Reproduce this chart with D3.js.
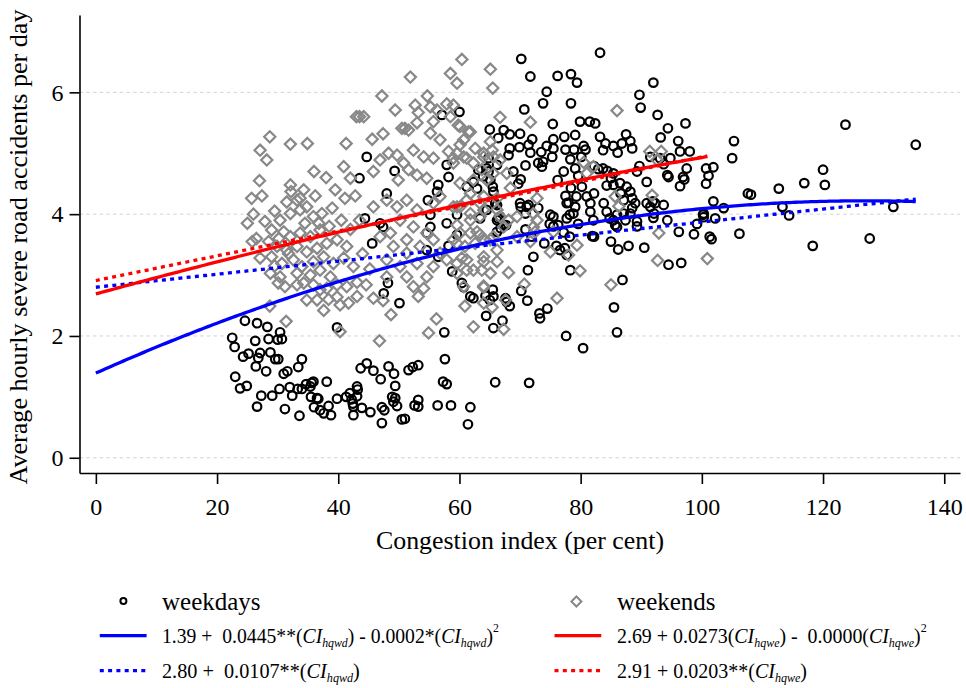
<!DOCTYPE html>
<html><head><meta charset="utf-8">
<script src="https://cdn.jsdelivr.net/npm/d3@7"></script>
<style>
body{margin:0;background:#fff}
svg{display:block}
text{font-family:"Liberation Serif","Times New Roman",serif;fill:#000}
</style>
</head><body>
<svg id="c" width="966" height="688"></svg>
<script>
// ---------------- DATA ----------------
const xTicks = [0,20,40,60,80,100,120,140];
const yTicks = [0,2,4,6];
const seriesLabels = ["weekdays","weekends"];
const xTitle = "Congestion index (per cent)";
const yTitle = "Average hourly severe road accidents per day";

// fitted model coefficients (intercept, linear, quadratic)
const weekdayQuadCoef = [1.39, 0.0445, -0.000175];
const weekdayLinCoef  = [2.80, 0.0107];
const weekendQuadCoef = [2.69, 0.0273, -0.000049];
const weekendLinCoef  = [2.91, 0.0203];

// legend equation texts: [text, style]  n=normal i=italic sub=subscript sup=superscript
const eqWeekdayQuad = [["1.39 +  0.0445**(","n"],["CI","i"],["hqwd","sub"],[") - 0.0002*(","n"],["CI","i"],["hqwd","sub"],[")","n"],["2","sup"]];
const eqWeekdayLin  = [["2.80 +  0.0107**(","n"],["CI","i"],["hqwd","sub"],[")","n"]];
const eqWeekendQuad = [["2.69 + 0.0273(","n"],["CI","i"],["hqwe","sub"],[") -  0.0000(","n"],["CI","i"],["hqwe","sub"],[")","n"],["2","sup"]];
const eqWeekendLin  = [["2.91 + 0.0203**(","n"],["CI","i"],["hqwe","sub"],[")","n"]];

// weekday observations [congestion index, accidents per hour]
const weekdays = [
[24.6,2.25],[26.6,2.21],[28.3,2.15],[22.5,1.97],[22.9,1.82],[26.3,1.92],[28.5,1.95],[30.4,2.06],[30.0,1.94],[30.7,1.95],[39.8,2.14],[50.1,2.54],[47.5,2.70],[48.2,2.87],[57.5,2.06],[24.3,1.66],[25.2,1.71],[27.1,1.72],[26.8,1.64],[28.8,1.73],[29.6,1.62],[30.1,1.62],[34.0,1.62],[26.4,1.50],[28.1,1.42],[31.0,1.38],[31.6,1.42],[33.4,1.49],[23.0,1.33],[23.8,1.14],[24.9,1.18],[27.3,1.02],[29.1,1.02],[30.3,1.13],[32.0,1.16],[32.4,1.02],[33.3,1.13],[34.0,1.13],[34.7,1.21],[35.4,1.17],[35.9,1.25],[35.6,1.23],[38.1,1.25],[35.5,1.00],[36.5,0.98],[36.7,0.97],[36.0,0.83],[37.0,0.78],[37.6,0.73],[38.4,0.85],[38.8,0.70],[39.8,0.97],[41.3,1.00],[41.9,1.06],[42.2,0.96],[42.4,0.89],[42.5,0.84],[43.1,1.17],[43.2,1.12],[43.1,1.01],[42.5,0.70],[43.9,0.82],[45.3,0.75],[43.7,1.47],[44.7,1.55],[45.8,1.43],[47.0,1.29],[48.3,1.50],[49.2,1.38],[49.4,1.18],[48.9,1.00],[49.4,0.98],[49.7,0.85],[49.1,0.92],[47.2,0.83],[47.6,0.78],[47.2,0.57],[50.5,0.63],[51.0,0.64],[51.6,1.44],[52.3,1.49],[53.2,1.52],[52.6,0.86],[53.2,0.84],[53.2,0.95],[56.4,0.86],[58.6,0.86],[61.8,0.83],[61.4,0.55],[57.6,1.62],[57.3,1.25],[57.9,1.21],[65.9,1.24],[26.6,0.84],[31.2,0.80],[33.6,0.69],[64.4,2.33],[65.6,2.13],[61.8,2.65],[62.3,2.62],[64.3,2.66],[65.6,2.65],[65.5,2.76],[60.7,2.80],
[77.6,2.00],[80.4,1.80],[86.0,2.06],[85.5,2.47],[86.9,2.92],[71.5,1.23],[73.2,2.37],[73.3,2.29],[74.5,2.45],[71.2,2.58],[70.2,2.74],[71.3,3.08],[72.2,3.30],[78.3,3.08],[67.1,2.25],[65.0,2.59],[67.8,2.56],[68.3,2.49],[67.6,2.62],[60.4,2.87],[58.8,3.06],[74.0,3.52],[76.0,3.48],[76.6,3.41],[77.4,3.44],[77.7,3.33],[78.2,3.63],[77.2,3.70],[81.9,3.64],[82.2,3.63],[85.0,3.55],[86.2,3.42],[87.9,3.48],[90.5,3.45],[94.5,3.17],[96.6,3.20],[96.2,3.71],[98.7,3.67],[101.3,3.63],[99.2,3.84],[100.2,3.99],[106.2,3.68],[103.6,4.10],[102.2,3.93],[94.3,3.90],[101.9,4.21],[70.9,3.75],[66.8,3.77],[66.4,3.93],[67.7,3.82],[70.1,4.12],[71.1,4.12],[73.0,4.10],[74.9,3.84],[75.5,3.96],[78.2,3.99],[78.8,4.01],[79.6,3.84],[79.1,4.12],[81.6,4.04],[81.6,4.18],[84.3,4.04],[85.4,3.90],[85.7,3.82],[86.0,3.99],[87.1,4.01],[88.5,4.10],[89.0,4.18],[89.3,3.88],[91.5,4.12],[92.3,4.18],[93.7,4.15],[66.2,4.15],[77.7,4.18],
[83.2,6.65],[70.2,6.55],[71.7,6.26],[76.2,6.27],[78.4,6.30],[79.4,6.16],[74.4,6.01],[73.8,5.82],[78.4,5.82],[70.7,5.72],[60.0,5.68],[89.7,5.96],[89.9,5.75],[92.0,6.16],[92.7,5.63],[75.4,5.48],[79.9,5.52],[81.5,5.52],[82.4,5.49],[65.0,5.39],[67.3,5.38],[66.4,5.25],[68.3,5.31],[70.0,5.32],[94.4,5.41],[97.3,5.49],[93.2,5.26],[96.1,5.20],[96.4,5.03],[98.0,5.03],[105.3,5.20],[105.0,4.92],[72.0,5.23],[71.4,5.14],[71.7,5.01],[73.5,5.02],[74.4,5.12],[75.5,5.23],[75.5,5.08],[75.3,4.94],[73.8,4.86],[73.6,4.78],[73.0,4.84],[70.9,4.80],[69.9,5.10],[68.3,5.08],[68.1,4.97],[77.3,5.27],[79.1,5.30],[77.5,5.06],[78.9,5.06],[80.5,5.12],[80.8,5.06],[80.1,4.94],[78.3,4.90],[79.1,4.75],[77.2,4.70],[76.2,4.56],[79.6,4.63],[78.4,4.43],[77.5,4.30],[78.0,4.19],[79.3,4.29],[80.2,4.45],[81.0,4.29],[83.2,5.27],[84.1,5.16],[85.4,5.12],[86.8,5.16],[87.5,5.31],[88.2,5.20],[88.5,5.08],[86.1,5.01],[83.7,5.05],[82.2,4.79],[82.9,4.74],[83.7,4.75],[84.4,4.71],[85.4,4.67],[85.0,4.59],[84.3,4.47],[85.4,4.48],[86.5,4.51],[87.6,4.45],[86.6,4.34],[88.2,4.37],[87.1,4.23],[88.5,4.26],[88.2,4.01],[89.7,4.79],[89.3,4.70],[90.9,4.53],[91.5,4.94],[93.1,4.92],[94.8,4.92],[94.3,4.64],[97.5,4.75],[96.4,4.46],[96.9,4.61],[100.7,4.75],[101.9,4.77],[101.1,4.63],[100.7,4.50],[100.3,4.01],[91.9,4.21],[90.9,4.18],[92.1,4.01],[107.6,4.34],[82.2,4.34],[82.1,3.90],[83.8,4.18],[84.8,3.93],[86.0,3.79],[87.4,3.90],[89.3,3.80],[75.0,3.99],[76.3,3.82],[75.5,3.80],[77.7,3.93],[71.9,3.63],[70.0,4.18],[70.9,4.01],[71.4,4.15],[65.9,4.18],[66.7,3.96],[67.3,3.82],[66.2,3.71],[69.7,4.50],[70.1,4.57],[68.9,4.70],[65.1,4.56],[65.5,4.45],[63.9,4.62],[64.5,4.75],[64.8,4.92],
[57.1,5.63],[44.7,4.94],[49.3,4.71],[43.5,4.59],[48.0,4.34],[58.2,4.61],[57.9,4.81],[56.5,4.48],[56.3,4.37],[61.2,4.45],[62.3,4.53],[62.9,4.42],[65.6,4.37],[64.8,4.70],[63.1,4.73],[66.2,4.81],[44.4,3.93],[46.9,3.85],[45.6,3.52],[47.4,3.79],[54.8,4.23],[55.2,3.99],[55.2,3.79],[57.9,3.85],[59.6,3.99],[59.6,3.66],[63.4,3.93],[64.5,4.07],[66.2,3.90],[54.6,3.41],[58.2,3.48],[56.5,3.30],[54.6,3.69],
[93.7,4.82],[123.7,5.47],[135.3,5.14],[120.0,4.73],[116.9,4.51],[120.3,4.48],[112.7,4.42],[108.1,4.32],[97.1,4.57],[94.5,4.61],[100.3,3.95],[101.6,3.59],[92.0,3.94],[113.3,4.12],[114.4,3.98],[118.3,3.48],[127.7,3.60],[131.6,4.12]
];

// weekend observations [congestion index, accidents per hour]
const weekends = [
[28.7,5.27],[27.1,5.05],[28.2,4.89],[32.1,5.15],[34.9,5.16],[41.3,5.16],[43.0,5.60],[43.5,5.60],[44.2,5.60],[45.6,5.23],[47.4,5.32],[50.5,5.41],[51.0,5.41],[51.6,5.38],[52.7,5.79],[55.2,5.76],[57.9,5.81],[53.2,5.67],[53.0,5.50],[55.7,5.52],[55.2,5.33],[56.8,5.22],[59.8,5.46],[61.5,5.35],[60.1,5.14],[62.6,5.08],[64.0,5.00],[65.1,5.19],[25.7,4.26],[27.4,4.30],[32.1,4.48],[32.2,4.37],[34.3,4.40],[36.2,4.30],[33.7,4.26],[39.5,4.40],[41.1,4.26],[40.9,4.78],[42.0,4.59],[45.8,4.70],[46.9,4.89],[48.3,5.00],[49.7,4.97],[50.8,4.84],[51.6,4.73],[49.9,4.56],[52.4,5.05],[54.1,4.94],[55.7,4.92],[58.2,5.03],[59.0,4.92],[60.7,4.94],[62.3,4.84],[65.6,4.94],[53.0,4.64],[54.6,4.59],[27.9,3.88],[29.0,3.74],[30.4,3.90],[31.0,3.71],[32.1,4.01],[33.2,4.23],[33.7,4.07],[34.8,4.12],[35.9,3.96],[37.3,4.01],[37.0,3.74],[32.1,3.63],[33.7,3.69],[35.4,3.63],[29.9,3.47],[31.5,3.41],[33.2,3.47],[34.8,3.38],[36.5,3.44],[38.1,3.52],[39.8,3.58],[41.4,3.47],[27.1,3.28],[29.0,3.30],[30.7,3.19],[32.6,3.25],[34.0,3.14],[35.9,3.22],[37.6,3.30],[39.2,3.19],[40.9,3.28],[42.5,3.14],[28.8,3.03],[30.4,2.97],[33.2,3.03],[35.4,3.00],[37.0,3.08],[38.7,2.97],[45.8,4.12],[48.0,4.23],[49.7,4.12],[51.3,4.23],[53.0,4.07],[55.7,4.18],[56.8,4.29],[59.0,4.12],[61.2,4.23],[63.4,4.18],[50.2,3.90],[52.4,3.79],[54.6,3.69],[51.3,3.58],[48.6,3.69],[46.9,3.63],[49.1,3.47],[51.3,3.36],[53.5,3.47],[55.7,3.58],[56.8,3.36],[59.6,3.52],[61.8,3.69],[64.0,3.58],[65.6,3.63],[48.0,3.25],[50.2,3.14],[53.0,3.19],[55.7,3.14],[57.9,3.25],[61.2,3.25],[64.0,3.30],[66.2,3.41],[48.0,2.97],[51.3,2.97],[54.6,2.97],[59.6,3.03],[62.3,3.08],[65.1,3.03],
[29.5,4.05],[31.5,4.20],[28.5,3.55],[30.2,3.60],[36.8,3.85],[38.5,3.80],[39.0,4.10],[40.5,3.90],[42.0,3.75],[43.5,3.90],[42.8,4.30],[44.0,3.35],[45.2,3.10],[38.0,4.60],[36.0,4.70],[34.5,3.85],[31.8,3.35],[29.5,3.15],[26.5,3.60],[26.0,4.00],[27.0,4.55],[25.0,3.85],[25.8,3.55],
[28.7,2.49],[31.4,2.24],[34.8,2.59],[36.5,2.59],[37.6,2.42],[38.4,2.60],[39.8,2.64],[40.3,2.51],[41.7,2.54],[43.1,2.65],[44.6,2.84],[45.8,2.62],[47.4,2.58],[33.2,2.84],[34.3,2.87],[35.9,2.84],[37.0,2.76],[38.1,2.78],[39.8,2.84],[41.4,2.81],[43.1,2.88],[40.3,2.07],[46.8,1.92],[48.7,2.35],[53.2,2.65],[52.4,2.81],[54.1,2.78],[56.2,2.28],[54.9,2.05],[60.7,2.81],[60.9,2.49],[64.0,2.80],[62.3,2.15],[30.1,2.87],[31.2,2.81],
[86.3,4.13],[92.9,3.69],[92.7,3.24],[100.9,3.27],[85.0,2.84],[79.9,3.07],[76.1,2.62],[79.4,3.49],[78.0,3.33],[75.0,3.38],[72.8,3.90],[68.1,3.04],[70.7,2.85],[66.2,3.22],[64.0,3.22],[63.7,3.08],[64.0,2.82],[61.2,3.08],[59.6,3.19],[60.4,3.28],[60.9,3.47],[63.4,3.66],[62.6,3.52],[65.1,3.58],[67.3,3.79],[68.1,3.90],[66.2,4.07],[63.4,3.96],[61.8,3.90],[59.6,3.82],[59.0,3.58],[60.1,4.12],[67.3,2.11],[65.4,2.47],[67.6,2.59],[64.0,2.54],[71.7,3.55],[75.5,3.71],[72.5,3.71],
[60.4,6.54],[65.1,6.38],[65.5,6.07],[59.6,6.15],[58.5,6.31],[86.0,5.70],[71.7,5.51],[66.7,5.59],[59.0,5.79],[60.1,5.44],[61.8,5.35],[58.5,5.60],[60.7,5.22],[59.6,5.00],[59.0,4.84],[61.2,4.92],[64.0,4.94],[66.7,4.89],[65.4,5.05],[63.7,4.73],[65.6,4.67],[67.8,4.67],[62.3,4.56],[64.5,4.56],[60.1,4.51],[61.8,4.34],[64.0,4.29],[66.2,4.26],[68.4,4.43],[59.6,4.12],[61.8,4.01],[64.0,4.07],[66.7,3.96],[69.5,3.96],[72.2,4.01],[72.8,4.26],[60.1,3.69],[62.9,3.71],[69.5,3.63],[72.2,3.79],[91.4,5.03],[93.3,5.03],[92.6,4.89],[91.8,4.31],[85.7,4.29],[80.5,4.85],[82.1,4.78],[81.0,4.67],
[51.9,6.25],[47.2,5.94],[54.7,5.94],[56.3,5.71],[49.4,5.71]
];

// ---------------- DRAWING ----------------
const FONT = '"Liberation Serif","Times New Roman",serif';
const svg = d3.select("#c");
const x = d3.scaleLinear().domain([-2.7, 142.6]).range([79.5, 960]);
const y = d3.scaleLinear().domain([-0.25, 7.27]).range([473, 15]);

// gridlines
svg.append("g").selectAll("line").data(yTicks).join("line")
  .attr("x1", x.range()[0]).attr("x2", x.range()[1])
  .attr("y1", d => y(d)).attr("y2", d => y(d))
  .attr("stroke", "#d3d3d3").attr("stroke-width", 1).attr("stroke-dasharray", "3.5,3.2");

// axes
const gx = svg.append("g").attr("transform", `translate(0,${y.range()[0]})`)
  .call(d3.axisBottom(x).tickValues(xTicks).tickSize(11).tickSizeOuter(0).tickPadding(14));
const gy = svg.append("g").attr("transform", `translate(${x.range()[0]},0)`)
  .call(d3.axisLeft(y).tickValues(yTicks).tickSize(10).tickSizeOuter(0).tickPadding(6));
[gx, gy].forEach(g => {
  g.attr("font-family", FONT).attr("font-size", 24);
  g.select(".domain").attr("stroke", "#000").attr("stroke-width", 1.6);
  g.selectAll(".tick line").attr("stroke", "#000").attr("stroke-width", 1.6);
  g.selectAll(".tick text").attr("fill", "#000");
});

// axis titles
svg.append("text").attr("x", 520).attr("y", 549).attr("text-anchor", "middle")
  .attr("font-size", 26).attr("textLength", 288).attr("lengthAdjust", "spacingAndGlyphs").text(xTitle);
svg.append("text").attr("transform", "rotate(-90)").attr("x", -247).attr("y", 27)
  .attr("text-anchor", "middle").attr("font-size", 26)
  .attr("textLength", 475).attr("lengthAdjust", "spacingAndGlyphs").text(yTitle);

// points
const diamond = s => `M0,${-s}L${s},0L0,${s}L${-s},0Z`;
svg.append("g").selectAll("circle").data(weekdays).join("circle")
  .attr("cx", d => x(d[0])).attr("cy", d => y(d[1])).attr("r", 4.3)
  .attr("fill", "none").attr("stroke", "#000").attr("stroke-width", 2.2);
svg.append("g").selectAll("path").data(weekends).join("path")
  .attr("transform", d => `translate(${x(d[0])},${y(d[1])})`).attr("d", diamond(5.6))
  .attr("fill", "none").attr("stroke", "#888888").attr("stroke-width", 2.2);

// fitted lines
const model = c => v => c[0] + c[1] * v + (c[2] || 0) * v * v;
const wdMax = d3.max(weekdays, d => d[0]);
const weMax = d3.max(weekends, d => d[0]);
const curve = (c, max) => d3.range(0, max, 0.5).concat([max]).map(v => [v, model(c)(v)]);
const line = d3.line().x(d => x(d[0])).y(d => y(d[1]));
const lineDefs = [
  {c: weekdayLinCoef, max: wdMax, color: "#0000ff", dot: true},
  {c: weekendLinCoef, max: weMax, color: "#ff0000", dot: true},
  {c: weekdayQuadCoef, max: wdMax, color: "#0000ff", dot: false},
  {c: weekendQuadCoef, max: weMax, color: "#ff0000", dot: false}
];
svg.append("g").selectAll("path").data(lineDefs).join("path")
  .attr("d", d => line(curve(d.c, d.max)))
  .attr("fill", "none").attr("stroke", d => d.color).attr("stroke-width", 3.3)
  .attr("stroke-dasharray", d => d.dot ? "4,4.3" : null);

// legend
const lg = svg.append("g");
lg.append("circle").attr("cx", 123.4).attr("cy", 601).attr("r", 3)
  .attr("fill", "none").attr("stroke", "#000").attr("stroke-width", 2);
lg.append("path").attr("transform", "translate(576.4,601.5)").attr("d", diamond(5))
  .attr("fill", "none").attr("stroke", "#888888").attr("stroke-width", 2);
lg.append("text").attr("x", 162).attr("y", 610).attr("font-size", 25).text(seriesLabels[0]);
lg.append("text").attr("x", 617).attr("y", 610).attr("font-size", 25).text(seriesLabels[1]);

const legendLines = [
  {x1: 99.8, x2: 146.6, y: 635.7, color: "#0000ff", dot: false},
  {x1: 99.8, x2: 146.6, y: 670.7, color: "#0000ff", dot: true},
  {x1: 554.5, x2: 601.3, y: 635.7, color: "#ff0000", dot: false},
  {x1: 554.5, x2: 601.3, y: 670.7, color: "#ff0000", dot: true}
];
lg.selectAll("line").data(legendLines).join("line")
  .attr("x1", d => d.x1).attr("x2", d => d.x2).attr("y1", d => d.y).attr("y2", d => d.y)
  .attr("stroke", d => d.color).attr("stroke-width", 3.3)
  .attr("stroke-dasharray", d => d.dot ? "4,4.3" : null);

function equation(segs, x0, yb, targetW) {
  const g = lg.append("g");
  const t = g.append("text").attr("x", 0).attr("y", 0).attr("font-size", 20).style("white-space", "pre");
  let cur = 0;
  segs.forEach(([s, st]) => {
    const lvl = st === "sub" ? 3.5 : st === "sup" ? -11 : 0;
    const ts = t.append("tspan").text(s);
    if (lvl !== cur) ts.attr("dy", lvl - cur);
    cur = lvl;
    if (st === "i" || st === "sub") ts.attr("font-style", "italic");
    if (st === "sub") ts.attr("font-size", 12);
    if (st === "sup") ts.attr("font-size", 12);
  });
  const w = t.node().getBBox().width;
  let k = targetW / w;
  if (!(k > 0.75 && k < 1.3)) k = 1;
  g.attr("transform", `translate(${x0},${yb}) scale(${k},1)`);
}
equation(eqWeekdayQuad, 162, 643, 337);
equation(eqWeekdayLin, 162, 678, 198);
equation(eqWeekendQuad, 617, 643, 310);
equation(eqWeekendLin, 617, 678, 190);
</script>
</body></html>
